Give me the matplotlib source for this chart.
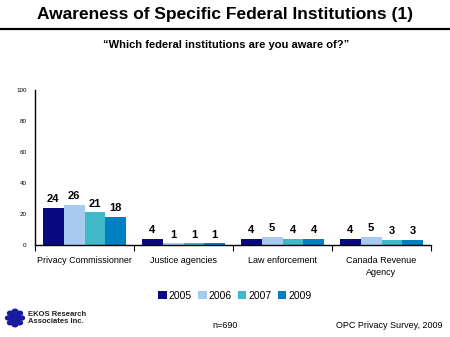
import matplotlib
matplotlib.use("Agg")
import matplotlib.pyplot as plt
import numpy as np

categories = ["Privacy Commissionner", "Justice agencies", "Law enforcement", "Canada Revenue\nAgency"]
years = ["2005", "2006", "2007", "2009"]
values_2005 = [24, 4, 4, 4]
values_2006 = [26, 1, 5, 5]
values_2007 = [21, 1, 4, 3]
values_2009 = [18, 1, 4, 3]
colors = ["#0a0a80", "#a6caf0", "#40b8c8", "#0080c0"]

plt.rcParams['font.family'] = ['Liberation Sans', 'DejaVu Sans']

fig = plt.figure(figsize=(4.5, 3.37), dpi=100)
ax = fig.add_axes([35 / 450, 1 - 245 / 337, 396 / 450, 155 / 337])

series = [values_2005, values_2006, values_2007, values_2009]
x = np.arange(len(categories))
w = 0.21
for i, (vals, col) in enumerate(zip(series, colors)):
    pos = x - 1.5 * w + i * w
    ax.bar(pos, vals, width=w, color=col, label=years[i], edgecolor='none')
    for p, v in zip(pos, vals):
        ax.text(p, v + 2.5, str(v), ha='center', va='bottom', fontsize=8,
                fontweight='bold')

ax.set_xlim(-0.5, len(categories) - 0.5)
ax.set_ylim(0, 100)
ax.set_yticks([0, 20, 40, 60, 80, 100])
ax.tick_params(axis='y', length=0, labelsize=4.5, pad=6)
ax.set_xticks(x)
ax.set_xticklabels(categories, fontsize=6.5, linespacing=1.4)
ax.tick_params(axis='x', length=0, pad=8)
ax.set_xticks(np.arange(len(categories) + 1) - 0.5, minor=True)
ax.tick_params(axis='x', which='minor', length=4, direction='out', width=0.8)
for s in ['top', 'right']:
    ax.spines[s].set_visible(False)
ax.spines['left'].set_linewidth(1.0)
ax.spines['bottom'].set_linewidth(1.0)

leg = ax.legend(loc='center', bbox_to_anchor=(235 / 450, 1 - 296 / 337),
                bbox_transform=fig.transFigure, ncol=4, frameon=False,
                fontsize=7.5, handlelength=0.8, handleheight=0.8,
                handletextpad=0.2, columnspacing=0.6)

# header
fig.text(0.5, 1 - 15 / 337, "Awareness of Specific Federal Institutions (1)",
         ha='center', va='center', fontsize=12.5, fontweight='bold')
fig.add_artist(plt.Line2D([0, 1], [1 - 29 / 337, 1 - 29 / 337], color='black', lw=1.6))
fig.text(226 / 450, 1 - 45 / 337, "\u201cWhich federal institutions are you aware of?\u201d",
         ha='center', va='center', fontsize=8, fontweight='bold',
         family=['Liberation Sans Narrow', 'Liberation Sans'])

# footer
ang = np.linspace(0, 2 * np.pi, 9)[:-1]
fig.add_artist(plt.Circle((15 / 450, 1 - 318 / 337), 0.012, transform=fig.transFigure,
                          color='#1a1aa0'))
for a in ang:
    fig.add_artist(plt.Circle((15 / 450 + 0.02 * np.cos(a) * 0.75, 1 - 318 / 337 + 0.02 * np.sin(a)),
                              0.006, transform=fig.transFigure, color='#1a1aa0'))
fig.text(28 / 450, 1 - 318 / 337, "EKOS Research\nAssociates Inc.", ha='left', va='center',
         fontsize=5.5, fontweight='bold', color='#222222', linespacing=1.1)
fig.text(225 / 450, 1 - 326 / 337, "n=690", ha='center', va='center', fontsize=6.5)
fig.text(443 / 450, 1 - 325 / 337, "OPC Privacy Survey, 2009", ha='right', va='center', fontsize=6.5)

fig.savefig("out.png", dpi=100)
